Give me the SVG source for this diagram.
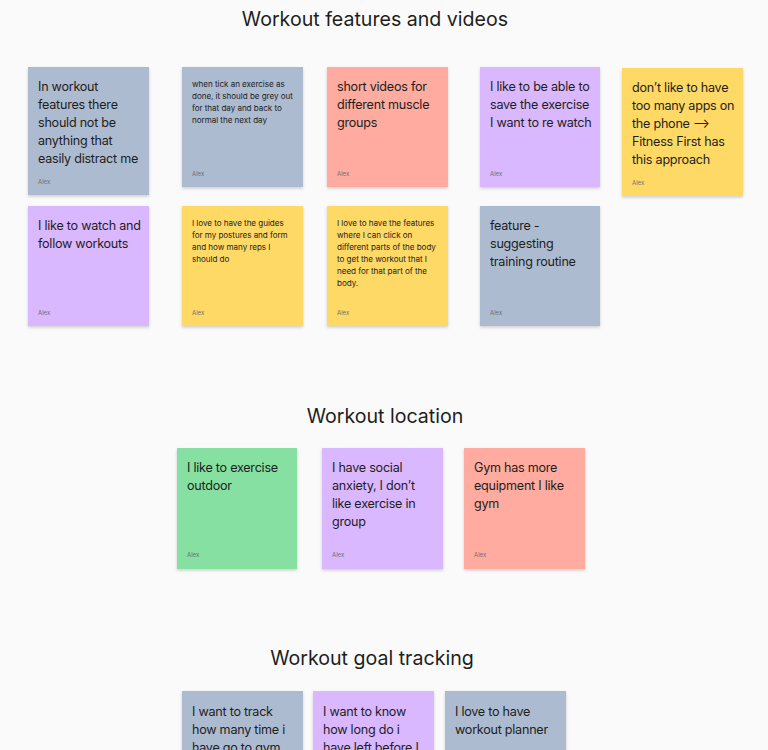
<svg xmlns="http://www.w3.org/2000/svg" width="768" height="750" viewBox="0 0 768 750">
<defs>
<filter id="sh" x="-10%" y="-10%" width="120%" height="125%">
<feDropShadow dx="0" dy="1.5" stdDeviation="1.5" flood-color="#000" flood-opacity="0.18"/>
</filter>
</defs>
<style>
.t{font-family:Inter,"Noto Sans","Liberation Sans",sans-serif;fill:#1e1e1e}
.h{font-size:19.6px;text-anchor:middle}
.b{font-size:12.6px;letter-spacing:-0.25px}
.s{font-size:8.1px;letter-spacing:-0.05px}
.a{font-family:Inter,"Liberation Sans",sans-serif;font-size:6px;fill:#6f6f6f}
.g{fill:#adbbd0}
.r{fill:#ffab9f}
.p{fill:#dab8ff}
.y{fill:#ffd966}
.n{fill:#85e0a1}
</style>
<rect width="768" height="750" fill="#fafafa"/>
<text class="t h" x="375" y="26">Workout features and videos</text>
<text class="t h" x="385" y="423">Workout location</text>
<text class="t h" x="372" y="665">Workout goal tracking</text>

<g id="n1"><rect class="g" x="28" y="67" width="121" height="128" filter="url(#sh)"/>
<text class="t b" x="38"><tspan x="38" y="91">In workout</tspan><tspan x="38" y="109">features there</tspan><tspan x="38" y="127">should not be</tspan><tspan x="38" y="145">anything that</tspan><tspan x="38" y="163">easily distract me</tspan></text>
<text class="a" x="38" y="184">Alex</text></g>

<g id="n2"><rect class="g" x="182" y="67" width="121" height="120" filter="url(#sh)"/>
<text class="t s"><tspan x="192" y="87">when tick an exercise as</tspan><tspan x="192" y="99">done, it should be grey out</tspan><tspan x="192" y="111">for that day and back to</tspan><tspan x="192" y="123">normal the next day</tspan></text>
<text class="a" x="192" y="176">Alex</text></g>

<g id="n3"><rect class="r" x="327" y="67" width="121" height="120" filter="url(#sh)"/>
<text class="t b"><tspan x="337" y="91">short videos for</tspan><tspan x="337" y="109">different muscle</tspan><tspan x="337" y="127">groups</tspan></text>
<text class="a" x="337" y="176">Alex</text></g>

<g id="n4"><rect class="p" x="480" y="67" width="120" height="120" filter="url(#sh)"/>
<text class="t b"><tspan x="490" y="91">I like to be able to</tspan><tspan x="490" y="109">save the exercise</tspan><tspan x="490" y="127">I want to re watch</tspan></text>
<text class="a" x="490" y="176">Alex</text></g>

<g id="n5"><rect class="y" x="622" y="68" width="121" height="128" filter="url(#sh)"/>
<text class="t b"><tspan x="632" y="92">don’t like to have</tspan><tspan x="632" y="110">too many apps on</tspan><tspan x="632" y="128">the phone ⟶</tspan><tspan x="632" y="146">Fitness First has</tspan><tspan x="632" y="164">this approach</tspan></text>
<text class="a" x="632" y="185">Alex</text></g>

<g id="n6"><rect class="p" x="28" y="206" width="121" height="120" filter="url(#sh)"/>
<text class="t b"><tspan x="38" y="230">I like to watch and</tspan><tspan x="38" y="248">follow workouts</tspan></text>
<text class="a" x="38" y="315">Alex</text></g>

<g id="n7"><rect class="y" x="182" y="206" width="121" height="120" filter="url(#sh)"/>
<text class="t s"><tspan x="192" y="226">I love to have the guides</tspan><tspan x="192" y="238">for my postures and form</tspan><tspan x="192" y="250">and how many reps I</tspan><tspan x="192" y="262">should do</tspan></text>
<text class="a" x="192" y="315">Alex</text></g>

<g id="n8"><rect class="y" x="327" y="206" width="121" height="120" filter="url(#sh)"/>
<text class="t s"><tspan x="337" y="226">I love to have the features</tspan><tspan x="337" y="238">where I can click on</tspan><tspan x="337" y="250">different parts of the body</tspan><tspan x="337" y="262">to get the workout that I</tspan><tspan x="337" y="274">need for that part of the</tspan><tspan x="337" y="286">body.</tspan></text>
<text class="a" x="337" y="315">Alex</text></g>

<g id="n9"><rect class="g" x="480" y="206" width="120" height="120" filter="url(#sh)"/>
<text class="t b"><tspan x="490" y="230">feature -</tspan><tspan x="490" y="248">suggesting</tspan><tspan x="490" y="266">training routine</tspan></text>
<text class="a" x="490" y="315">Alex</text></g>

<g id="n10"><rect class="n" x="177" y="448" width="120" height="121" filter="url(#sh)"/>
<text class="t b"><tspan x="187" y="472">I like to exercise</tspan><tspan x="187" y="490">outdoor</tspan></text>
<text class="a" x="187" y="557">Alex</text></g>

<g id="n11"><rect class="p" x="322" y="448" width="121" height="121" filter="url(#sh)"/>
<text class="t b"><tspan x="332" y="472">I have social</tspan><tspan x="332" y="490">anxiety, I don’t</tspan><tspan x="332" y="508">like exercise in</tspan><tspan x="332" y="526">group</tspan></text>
<text class="a" x="332" y="557">Alex</text></g>

<g id="n12"><rect class="r" x="464" y="448" width="121" height="121" filter="url(#sh)"/>
<text class="t b"><tspan x="474" y="472">Gym has more</tspan><tspan x="474" y="490">equipment I like</tspan><tspan x="474" y="508">gym</tspan></text>
<text class="a" x="474" y="557">Alex</text></g>

<g id="n13"><rect class="g" x="182" y="691" width="121" height="121" filter="url(#sh)"/>
<text class="t b"><tspan x="192" y="716">I want to track</tspan><tspan x="192" y="734">how many time i</tspan><tspan x="192" y="752">have go to gym</tspan></text></g>

<g id="n14"><rect class="p" x="313" y="691" width="121" height="121" filter="url(#sh)"/>
<text class="t b"><tspan x="323" y="716">I want to know</tspan><tspan x="323" y="734">how long do i</tspan><tspan x="323" y="752">have left before I</tspan></text></g>

<g id="n15"><rect class="g" x="445" y="691" width="121" height="121" filter="url(#sh)"/>
<text class="t b"><tspan x="455" y="716">I love to have</tspan><tspan x="455" y="734">workout planner</tspan></text></g>

<g id="connectors"></g>
</svg>
